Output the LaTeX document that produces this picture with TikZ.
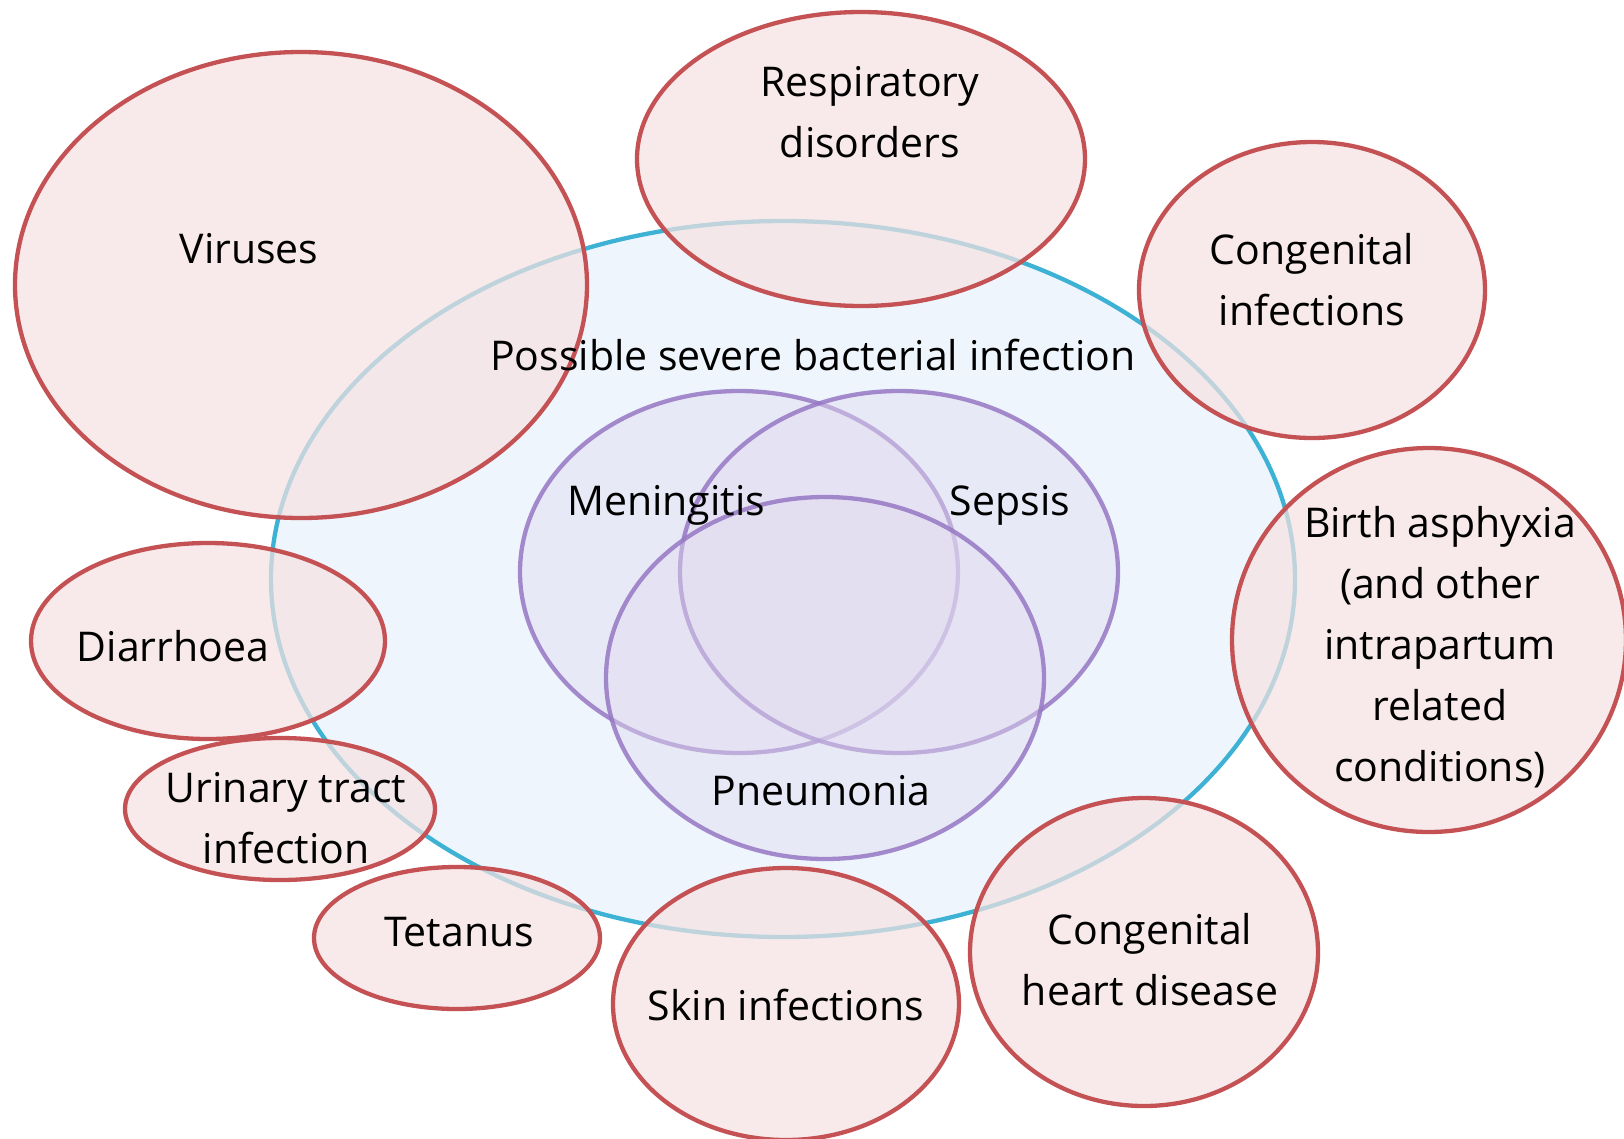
\documentclass[tikz,border=0pt]{standalone}
\usepackage{fontspec}
\setmainfont{Open Sans}
\begin{document}
\begin{tikzpicture}[x=1pt,y=-1pt,
  lbl/.style={align=center,font=\fontsize{41}{61}\selectfont,text=black,inner sep=0pt},
  redell/.style={draw=redline,line width=4.3pt,fill=redfill,fill opacity=0.7},
  purpell/.style={draw=purpline,line width=4.3pt,fill=purpfill,fill opacity=0.45,draw opacity=0.85},
  blueell/.style={draw=blueline,line width=4.3pt,fill=bluefill}]
\definecolor{redline}{RGB}{196,82,84}
\definecolor{redfill}{RGB}{246,226,226}
\definecolor{blueline}{RGB}{62,178,212}
\definecolor{bluefill}{RGB}{238,245,252}
\definecolor{purpline}{RGB}{150,120,196}
\definecolor{purpfill}{RGB}{226,220,240}
\useasboundingbox (0,0) rectangle (1624,1138);
\fill[white] (0,0) rectangle (1624,1138);
% big blue ellipse
\draw[blueell] (783,579) ellipse [x radius=512, y radius=358];
% inner purple
\draw[purpell] (739,572) ellipse [x radius=219, y radius=181];
\draw[purpell] (899,572) ellipse [x radius=219, y radius=181];
\draw[purpell] (825,678) ellipse [x radius=219, y radius=181];
% red ellipses
\draw[redell] (301,285) ellipse [x radius=286, y radius=233];
\draw[redell] (861,159) ellipse [x radius=224, y radius=147];
\draw[redell] (1312,290) ellipse [x radius=173, y radius=148];
\draw[redell] (1429,640) ellipse [x radius=197, y radius=192];
\draw[redell] (208,641) ellipse [x radius=177, y radius=98];
\draw[redell] (280,809) ellipse [x radius=155, y radius=71];
\draw[redell] (457,938) ellipse [x radius=143, y radius=71];
\draw[redell] (786,1004) ellipse [x radius=173, y radius=136];
\draw[redell] (1144,952) ellipse [x radius=174, y radius=154];
% labels
\node[lbl] (resp) at (870,112) {Respiratory\\disorders};
\node[lbl] (vir) at (249,249) {Viruses};
\node[lbl] (cinf) at (1312,280) {Congenital\\infections};
\node[lbl] (psbi) at (813,355) {Possible severe bacterial infection};
\node[lbl] (men) at (666,505) {Meningitis};
\node[lbl] (sep) at (1010,505) {Sepsis};
\node[lbl] (pne) at (821,791) {Pneumonia};
\node[lbl] (birth) at (1440,647) {Birth asphyxia\\(and other\\intrapartum\\related\\conditions)};
\node[lbl] (diar) at (173,646) {Diarrhoea};
\node[lbl] (uti) at (286,818) {Urinary tract\\infection};
\node[lbl] (tet) at (459,932) {Tetanus};
\node[lbl] (skin) at (786,1005) {Skin infections};
\node[lbl] (chd) at (1150,960) {Congenital\\heart disease};
\end{tikzpicture}
\end{document}
